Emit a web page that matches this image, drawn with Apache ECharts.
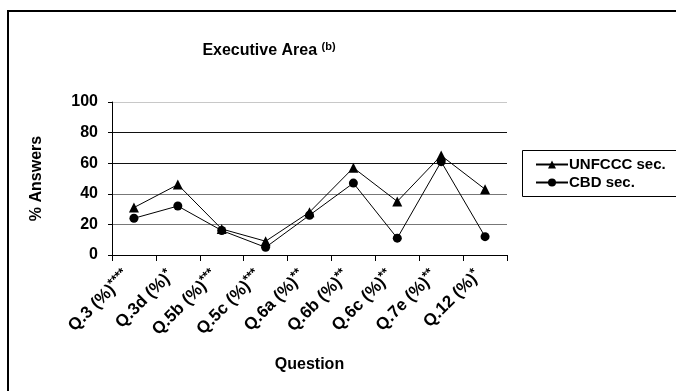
<!DOCTYPE html>
<html>
<head>
<meta charset="utf-8">
<script src="https://cdn.jsdelivr.net/npm/echarts@6/dist/echarts.min.js"></script>
<style>
  html, body { margin: 0; padding: 0; background: #fff; }
  #chart { width: 676px; height: 391px; }
</style>
</head>
<body>
<div id="chart"></div>
<script>
// Questions and their significance marks (drawn as superscripts)
const questions = ['Q.3 (%)', 'Q.3d (%)', 'Q.5b (%)', 'Q.5c (%)', 'Q.6a (%)', 'Q.6b (%)', 'Q.6c (%)', 'Q.7e (%)', 'Q.12 (%)'];
const stars = ['****', '*', '***', '***', '**', '**', '**', '**', '*'];

// % of answers per secretariat
const unfccc = [31, 46, 17, 9, 28, 57, 35, 65, 43];
const cbd = [24, 32, 16, 5, 26, 47, 11, 61, 12];

const yTicks = [0, 20, 40, 60, 80, 100];

const FONT = '"Liberation Sans", Arial, sans-serif';
const categories = questions.map((q, i) => q + '|' + stars[i]);

const chart = echarts.init(document.getElementById('chart'));
chart.setOption({
  animation: false,
  backgroundColor: '#fff',
  title: {
    text: '{t|Executive Area }{s|(b)}',
    left: 264,
    textAlign: 'center',
    top: 36,
    textStyle: {
      rich: {
        t: { fontFamily: FONT, fontWeight: 'bold', fontSize: 16, color: '#000', lineHeight: 20 },
        s: { fontFamily: FONT, fontWeight: 'bold', fontSize: 11, color: '#000', verticalAlign: 'top', lineHeight: 20, padding: [0, 0, 10, 0] }
      }
    }
  },
  graphic: [
    { type: 'rect', shape: { x: 8, y: 11, width: 700, height: 400 }, style: { fill: 'none', stroke: '#000', lineWidth: 2 }, z: 0 },
    { type: 'rect', shape: { x: 522.5, y: 150.5, width: 200, height: 46 }, style: { fill: '#fff', stroke: '#000', lineWidth: 1 }, z: 1 }
  ],
  legend: {
    orient: 'vertical',
    left: 530,
    top: 152,
    itemWidth: 32,
    itemHeight: 10,
    itemGap: 3,
    z: 5,
    textStyle: { fontFamily: FONT, fontWeight: 'bold', fontSize: 15, color: '#000', padding: [0, 0, 0, -4] },
    data: ['UNFCCC sec.', 'CBD sec.']
  },
  grid: { left: 112, top: 102, width: 395, height: 153 },
  xAxis: {
    type: 'category',
    data: categories,
    boundaryGap: true,
    name: 'Question',
    nameLocation: 'middle',
    nameGap: 102,
    nameTextStyle: { fontFamily: FONT, fontWeight: 'bold', fontSize: 16, color: '#000' },
    axisLine: { lineStyle: { color: '#000', width: 1 } },
    axisTick: { show: true, length: 6, lineStyle: { color: '#000' } },
    axisLabel: {
      rotate: 45,
      interval: 0,
      margin: 11,
      padding: [0, 10, 0, 0],
      formatter: v => {
        const [q, s] = v.split('|');
        return '{q|' + q + '}{s|' + s + '}';
      },
      rich: {
        q: { fontFamily: FONT, fontWeight: 'bold', fontSize: 17, color: '#000', lineHeight: 20 },
        s: { fontFamily: FONT, fontWeight: 'bold', fontSize: 13, color: '#000', verticalAlign: 'top', lineHeight: 20, padding: [0, 0, 10, 0] }
      }
    },
    splitLine: { show: false }
  },
  yAxis: {
    type: 'value',
    min: 0,
    max: 100,
    interval: 20,
    name: '% Answers',
    nameLocation: 'middle',
    nameGap: 67,
    nameRotate: 90,
    nameTextStyle: { fontFamily: FONT, fontWeight: 'bold', fontSize: 16, color: '#000' },
    axisLine: { show: true, lineStyle: { color: '#000', width: 1 } },
    axisTick: { show: true, length: 4, lineStyle: { color: '#000' } },
    axisLabel: {
      margin: 14,
      fontFamily: FONT, fontWeight: 'bold', fontSize: 16, color: '#000',
      formatter: v => (yTicks.includes(v) ? String(v) : '')
    },
    splitLine: { show: true, lineStyle: { color: ['#000', '#777', '#777', '#111', '#111', '#c8c8c8'], width: 1 } }
  },
  series: [
    {
      name: 'UNFCCC sec.',
      type: 'line',
      data: unfccc,
      symbol: 'triangle',
      symbolSize: 10,
      lineStyle: { color: '#000', width: 1 },
      itemStyle: { color: '#000' },
      z: 3
    },
    {
      name: 'CBD sec.',
      type: 'line',
      data: cbd,
      symbol: 'circle',
      symbolSize: 9,
      lineStyle: { color: '#000', width: 1 },
      itemStyle: { color: '#000' },
      z: 3
    }
  ]
});
</script>
</body>
</html>
